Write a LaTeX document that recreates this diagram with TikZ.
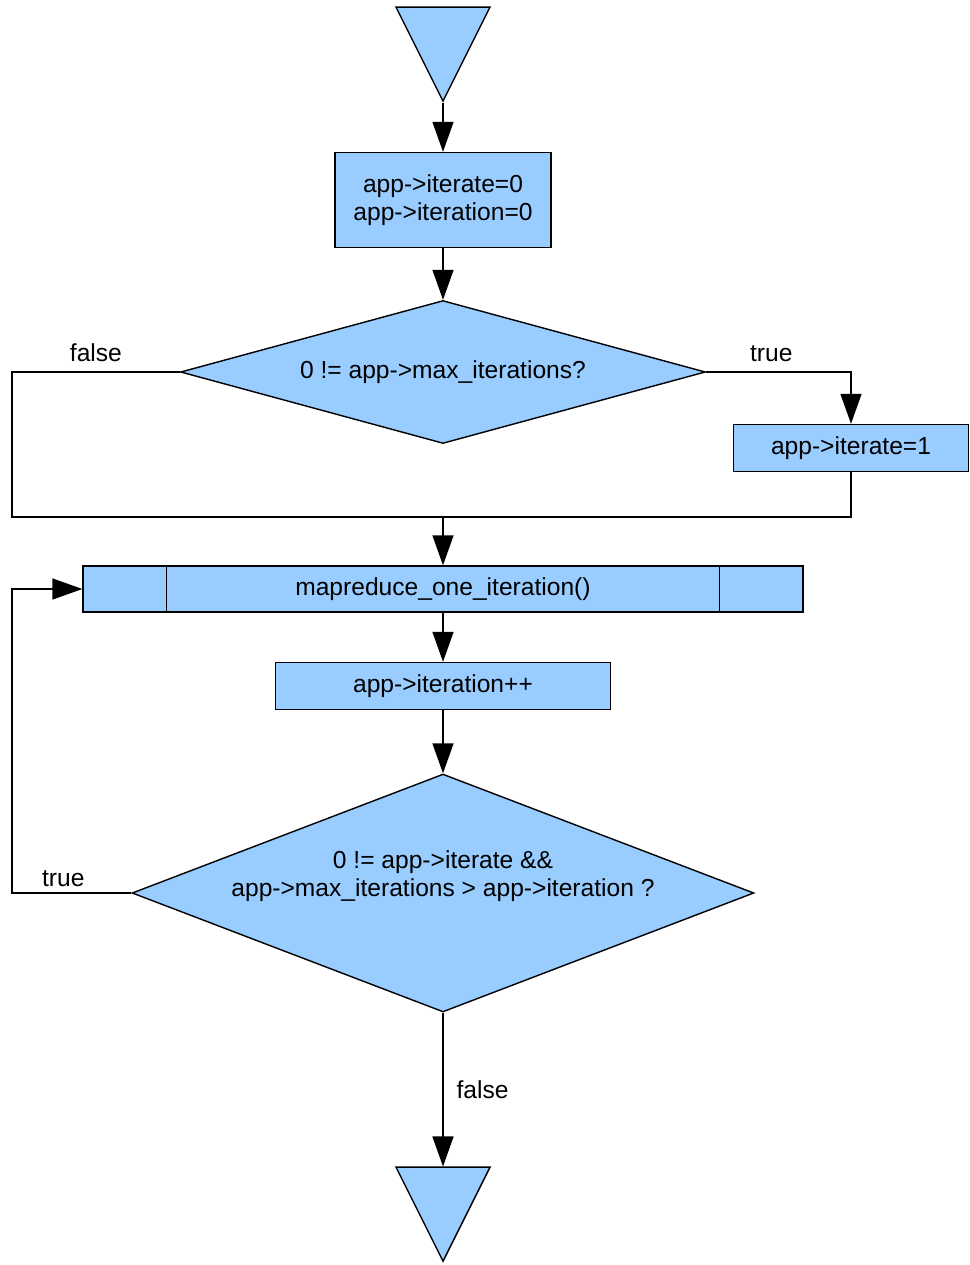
\documentclass[tikz,border=0pt]{standalone}
\usepackage{fontspec}
\setmainfont{Liberation Sans}
\usetikzlibrary{shapes.geometric,arrows.meta}
\definecolor{boxblue}{RGB}{153,204,255}
\tikzset{
  >={Triangle[length=0.6cm,width=0.42cm]},
  every node/.style={font=\fontsize{14}{16}\selectfont},
  box/.style={draw,fill=boxblue,inner sep=0pt,align=center},
  decision/.style={draw,fill=boxblue,diamond,inner sep=0pt,align=center},
  terminal/.style={draw,fill=boxblue,isosceles triangle,isosceles triangle stretches,
    shape border rotate=270,minimum width=1.88cm,minimum height=1.88cm,inner sep=0pt}
}

\begin{document}
\begin{tikzpicture}[x=0.02cm,y=-0.02cm,line width=0.8pt]
  \useasboundingbox (0,0) rectangle (970,1265);

  \node [terminal,anchor=apex] (1) at (443,103) {};
  \node [box,minimum width=4.32cm,minimum height=1.9cm] (2) at (443,200) {app->iterate=0\\app->iteration=0};
  \node [decision,aspect=3.67,minimum width=10.5cm,minimum height=2.86cm] (3) at (443,372) {0 != app->max\_iterations?};
  \node [box,minimum width=4.7cm,minimum height=0.94cm] (4) at (851,448) {app->iterate=1};
  \node [box,minimum width=14.4cm,minimum height=0.92cm] (5) at (443,589) {mapreduce\_one\_iteration()};
  \node [box,minimum width=6.7cm,minimum height=0.94cm] (6) at (443,686) {app->iteration++};
  \node [decision,aspect=2.61,minimum width=12.44cm,minimum height=4.76cm] (7) at (443,893)
    {\raisebox{0.2cm}[0pt][0pt]{\begin{tabular}{@{}c@{}}0 != app->iterate \&\&\\app->max\_iterations > app->iteration ?\end{tabular}}};
  \node [terminal,anchor=apex] (8) at (443,1263) {};
  \coordinate (l1) at (12,517);
  \coordinate (m) at (443,517);

  % subroutine sides
  \draw ([xshift=1.68cm]5.north west) -- ([xshift=1.68cm]5.south west);
  \draw ([xshift=-1.68cm]5.north east) -- ([xshift=-1.68cm]5.south east);

  \draw[->] (1) -- (2);
  \draw[->] (2) -- (3);
  \draw (3.west) -| node[pos=0.25,above,yshift=2pt] {false} (l1) -| (4.south);
  \draw[->] (3.east) -| node[pos=0.225,above,yshift=2pt] {true} (4.north);
  \draw[->] (m) -- (5);
  \draw[->] (5) -- (6);
  \draw[->] (6) -- (7);
  \draw[->] (7.west) -- node[pos=0.57,above] {true} (7.west -| l1) |- (5.west);
  \draw[->] (7) -- node[right,xshift=4pt] {false} (8);
\end{tikzpicture}
\end{document}
